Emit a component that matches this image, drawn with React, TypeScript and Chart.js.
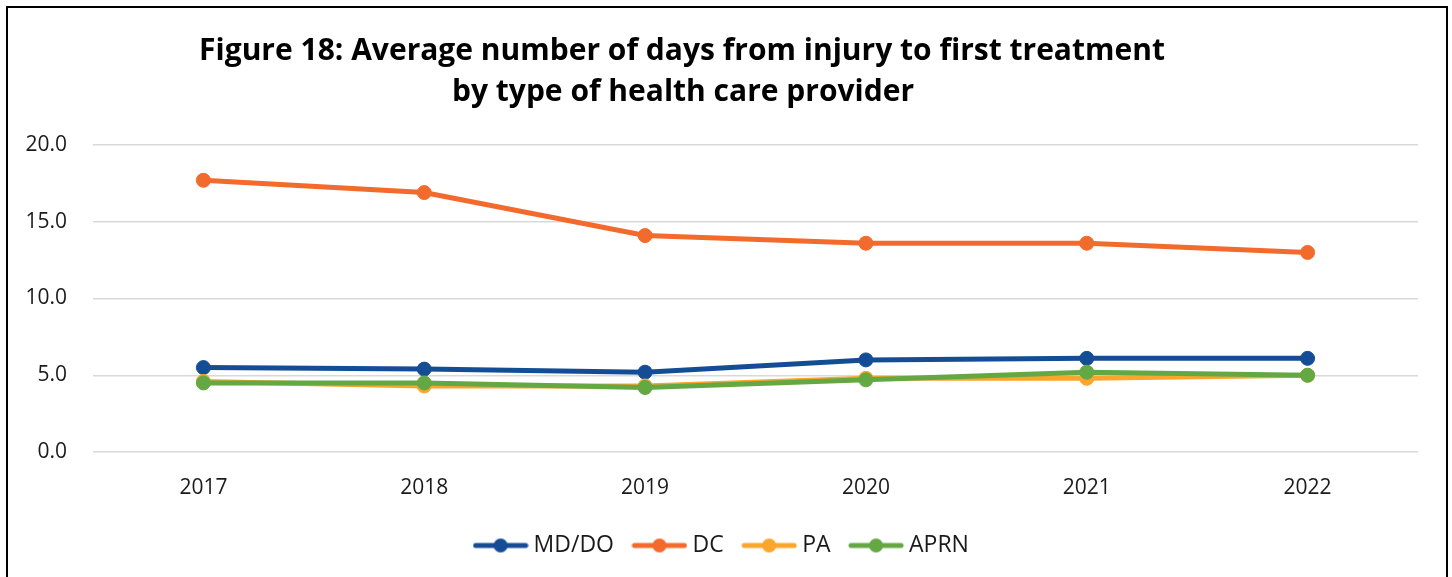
import React, { useEffect, useRef } from "react";
import { Chart, registerables } from "chart.js";

Chart.register(...registerables);

const years = ["2017", "2018", "2019", "2020", "2021", "2022"];
const mdDo = [5.5, 5.4, 5.2, 6.0, 6.1, 6.1];
const dc = [17.7, 16.9, 14.1, 13.6, 13.6, 13.0];
const pa = [4.6, 4.3, 4.3, 4.8, 4.8, 5.0];
const aprn = [4.5, 4.5, 4.2, 4.7, 5.2, 5.0];
const seriesNames = ["MD/DO", "DC", "PA", "APRN"];
const seriesColors = ["#144D96", "#F26A2C", "#FBA52C", "#64A844"];
const titleLines = [
  "Figure 18: Average number of days from injury to first treatment",
  "by type of health care provider",
];

const FONT = "'Open Sans', 'Noto Sans', sans-serif";

function legendImage(color: string): HTMLCanvasElement {
  const c = document.createElement("canvas");
  c.width = 56;
  c.height = 16;
  const g = c.getContext("2d")!;
  g.strokeStyle = color;
  g.lineWidth = 5;
  g.lineCap = "round";
  g.beginPath();
  g.moveTo(3, 8);
  g.lineTo(53, 8);
  g.stroke();
  g.fillStyle = color;
  g.beginPath();
  g.arc(28, 8, 7, 0, Math.PI * 2);
  g.fill();
  return c;
}

const titlePlugin = {
  id: "customTitle",
  afterLayout(chart: any) {
    if (chart.legend) {
      chart.legend.left += 15;
      chart.legend.right += 15;
    }
  },
  afterDraw(chart: any) {
    const ctx = chart.ctx;
    ctx.save();
    ctx.fillStyle = "#000";
    ctx.font = `bold 30px ${FONT}`;
    ctx.textAlign = "center";
    ctx.textBaseline = "alphabetic";
    ctx.fillText(titleLines[0], 682, 60);
    ctx.fillText(titleLines[1], 683, 101);
    ctx.restore();
  },
};

export default function App() {
  const ref = useRef<HTMLCanvasElement>(null);
  useEffect(() => {
    if (!ref.current) return;
    const images = seriesColors.map((c) => legendImage(c));
    const all = [mdDo, dc, pa, aprn];
    const chart = new Chart(ref.current, {
      type: "line",
      data: {
        labels: years,
        datasets: all.map((d, i) => ({
          label: seriesNames[i],
          data: d,
          borderColor: seriesColors[i],
          backgroundColor: seriesColors[i],
          pointBackgroundColor: seriesColors[i],
          pointBorderColor: seriesColors[i],
          borderWidth: 5,
          pointRadius: 7,
          pointBorderWidth: 1,
          tension: 0,
          order: 3 - i,
        })),
      },
      options: {
        animation: false,
        responsive: false,
        layout: { padding: { left: 0, right: 34, top: 145, bottom: 10 } },
        scales: {
          x: {
            offset: true,
            grid: { display: false, drawTicks: false },
            border: { display: false },
            ticks: { padding: 23, color: "#1a1a1a", font: { family: FONT, size: 21 } },
            afterFit: (s: any) => {
              s.height = 58;
            },
          },
          y: {
            min: 0,
            max: 20,
            grid: { color: "#d9d9d9", lineWidth: 1.5, drawTicks: false },
            border: { display: false },
            ticks: {
              stepSize: 5,
              padding: 26,
              color: "#1a1a1a",
              font: { family: FONT, size: 21 },
              callback: (v: any) => Number(v).toFixed(1),
            },
            afterFit: (s: any) => {
              s.width = 93;
            },
          },
        },
        plugins: {
          title: { display: false },
          tooltip: { enabled: false },
          legend: {
            position: "bottom",
            labels: {
              usePointStyle: true,
              pointStyleWidth: 43,
              padding: 24,
              color: "#1a1a1a",
              font: { family: FONT, size: 23 },
              generateLabels: (ch: any) => {
                const items = Chart.defaults.plugins.legend.labels.generateLabels(ch);
                items.sort((a: any, b: any) => a.datasetIndex - b.datasetIndex);
                return items.map((it: any) => ({
                  ...it,
                  pointStyle: images[it.datasetIndex],
                }));
              },
            },
          },
        },
      },
      plugins: [titlePlugin],
    });
    return () => chart.destroy();
  }, []);

  return (
    <div style={{ position: "absolute", left: 0, top: 0, width: 1452, height: 577, overflow: "hidden", background: "#fff" }}>
      <canvas ref={ref} width={1452} height={577} style={{ position: "absolute", left: 0, top: 0, display: "block" }} />
      <div
        style={{
          position: "absolute",
          left: 6,
          top: 6,
          width: 1442,
          height: 620,
          border: "2px solid #000",
          boxSizing: "border-box",
          pointerEvents: "none",
        }}
      />
    </div>
  );
}
